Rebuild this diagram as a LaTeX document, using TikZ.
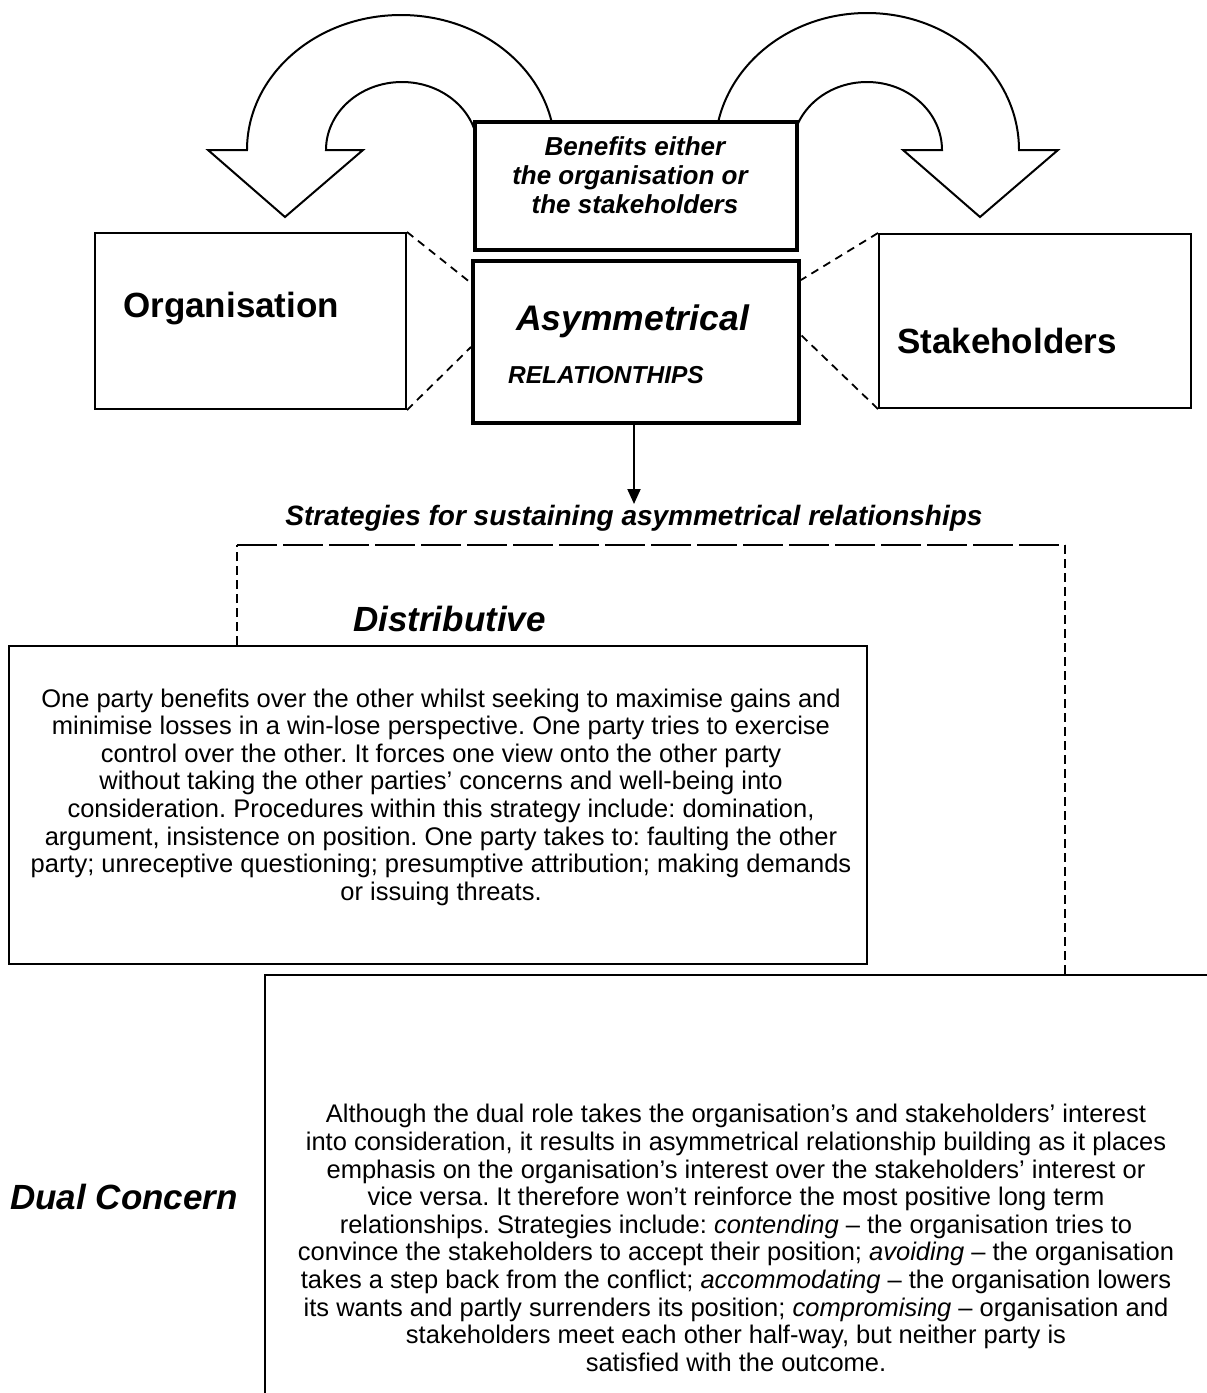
\documentclass[tikz,border=0pt]{standalone}
\usepackage{fontspec}
\setmainfont{Liberation Sans}
\usetikzlibrary{arrows.meta}
\newcommand{\myfs}[2]{\fontsize{#1}{#2}\selectfont}
\frenchspacing
\begin{document}
\begin{tikzpicture}[x=1pt,y=-1pt,
  thickbox/.style={draw, line width=4pt, fill=white, inner sep=0pt, anchor=north west},
  thinbox/.style={draw, line width=2pt, fill=white, inner sep=0pt, anchor=north west},
  dashlink/.style={line width=1.8pt, dash pattern=on 8pt off 6pt},
  dashframeh/.style={line width=1.6pt, dash pattern=on 40pt off 6pt},
  dashframev/.style={line width=1.6pt, dash pattern=on 9pt off 5pt},
  bigarrow/.style={draw, line width=2pt, fill=white, line join=miter},
  bodytext/.style={font=\myfs{25.5}{27.6}\frenchspacing, align=center, inner sep=0pt},
  headbi/.style={font=\myfs{35}{40}\bfseries\itshape, inner sep=0pt},
  headb/.style={font=\myfs{35}{40}\bfseries, inner sep=0pt},
  benline/.style={font=\myfs{26}{29}\bfseries\itshape, inner sep=0pt, anchor=base}
]
\useasboundingbox (0,0) rectangle (1207,1393);
\fill[white] (0,0) rectangle (1207,1393);

% curved block arrows
\path[bigarrow] (285,217) -- (363,150) -- (326,150)
  arc[start angle=180, end angle=360, x radius=76, y radius=68]
  -- (555,150)
  arc[start angle=0, end angle=-180, x radius=154, y radius=135]
  -- (208,150) -- cycle;
\path[bigarrow] (980,217) -- (903,150) -- (942,150)
  arc[start angle=0, end angle=-180, x radius=75, y radius=68]
  -- (715,150)
  arc[start angle=180, end angle=360, x radius=152, y radius=137]
  -- (1058,150) -- cycle;

% boxes
\node[thickbox, minimum width=322pt, minimum height=128pt] (ben) at (473,120) {};
\node[thickbox, minimum width=326pt, minimum height=162pt] (asym) at (471,259) {};
\node[thinbox, minimum width=311pt, minimum height=176pt] (org) at (94,232) {};
\node[thinbox, minimum width=312pt, minimum height=174pt] (stake) at (878,233) {};

% box texts
\node[benline] (ben1) at (635,155) {Benefits either};
\node[benline] (ben2) at (630,184) {the organisation or};
\node[benline] (ben3) at (635,213) {the stakeholders};
\node[font=\myfs{35.5}{40}\bfseries\itshape, inner sep=0pt, anchor=base west] (asymt) at (516,330) {Asymmetrical};
\node[font=\myfs{24.5}{28}\bfseries\itshape, inner sep=0pt, anchor=base west] (relt) at (508,383) {RELATIONTHIPS};
\node[headb, anchor=base west] (orgt) at (123,317) {Organisation};
\node[headb, anchor=base west] (staket) at (897,353) {Stakeholders};

% dashed links
\draw[dashlink] (org.north east) -- (asym.west |- 0,283);
\draw[dashlink] (org.south east) -- (asym.west |- 0,347);
\draw[dashlink] (stake.north west) -- (asym.east |- 0,280);
\draw[dashlink] (stake.south west) -- (asym.east |- 0,335);

% down arrow
\coordinate (arrtip) at (634,504);
\draw[line width=2pt, -{Triangle[length=15pt,width=13pt]}] (asym.south -| arrtip) -- (arrtip);
\node[font=\myfs{28}{32}\bfseries\itshape, inner sep=0pt, anchor=base] (strat) at (634,525) {Strategies for sustaining asymmetrical relationships};

% dashed frame
\coordinate (fr1) at (237,645);
\coordinate (fr2) at (237,545);
\coordinate (fr3) at (1065,545);
\coordinate (fr4) at (1065,975);
\draw[dashframev] (fr1) -- (fr2);
\draw[dashframeh] (fr2) -- (fr3);
\draw[dashframev] (fr3) -- (fr4);

\node[headbi, anchor=base west] (distt) at (353,631) {Distributive};

% distributive box
\node[thinbox, line width=2.4pt, minimum width=858pt, minimum height=318pt] (dist) at (8,645) {};
\node[bodytext] (disttext) at (441,797) {One party benefits over the other whilst seeking to maximise gains and\\
minimise losses in a win-lose perspective. One party tries to exercise\\
control over the other. It forces one view onto the other party\\
without taking the other parties’ concerns and well-being into\\
consideration. Procedures within this strategy include: domination,\\
argument, insistence on position. One party takes to: faulting the other\\
party; unreceptive questioning; presumptive attribution; making demands\\
or issuing threats.};

% dual concern box (open to the right and bottom)
\coordinate (du1) at (265,1393);
\coordinate (du2) at (265,975);
\coordinate (du3) at (1207,975);
\draw[line width=2.4pt] (du1) -- (du2) -- (du3);
\node[headbi, anchor=base west] (dualt) at (10,1209) {Dual Concern};
\node[bodytext] (dualtext) at (736,1238) {Although the dual role takes the organisation’s and stakeholders’ interest\\
into consideration, it results in asymmetrical relationship building as it places\\
emphasis on the organisation’s interest over the stakeholders’ interest or\\
vice versa. It therefore won’t reinforce the most positive long term\\
relationships. Strategies include: \textit{contending} – the organisation tries to\\
convince the stakeholders to accept their position; \textit{avoiding} – the organisation\\
takes a step back from the conflict; \textit{accommodating} – the organisation lowers\\
its wants and partly surrenders its position; \textit{compromising} – organisation and\\
stakeholders meet each other half-way, but neither party is\\
satisfied with the outcome.};
\end{tikzpicture}
\end{document}
